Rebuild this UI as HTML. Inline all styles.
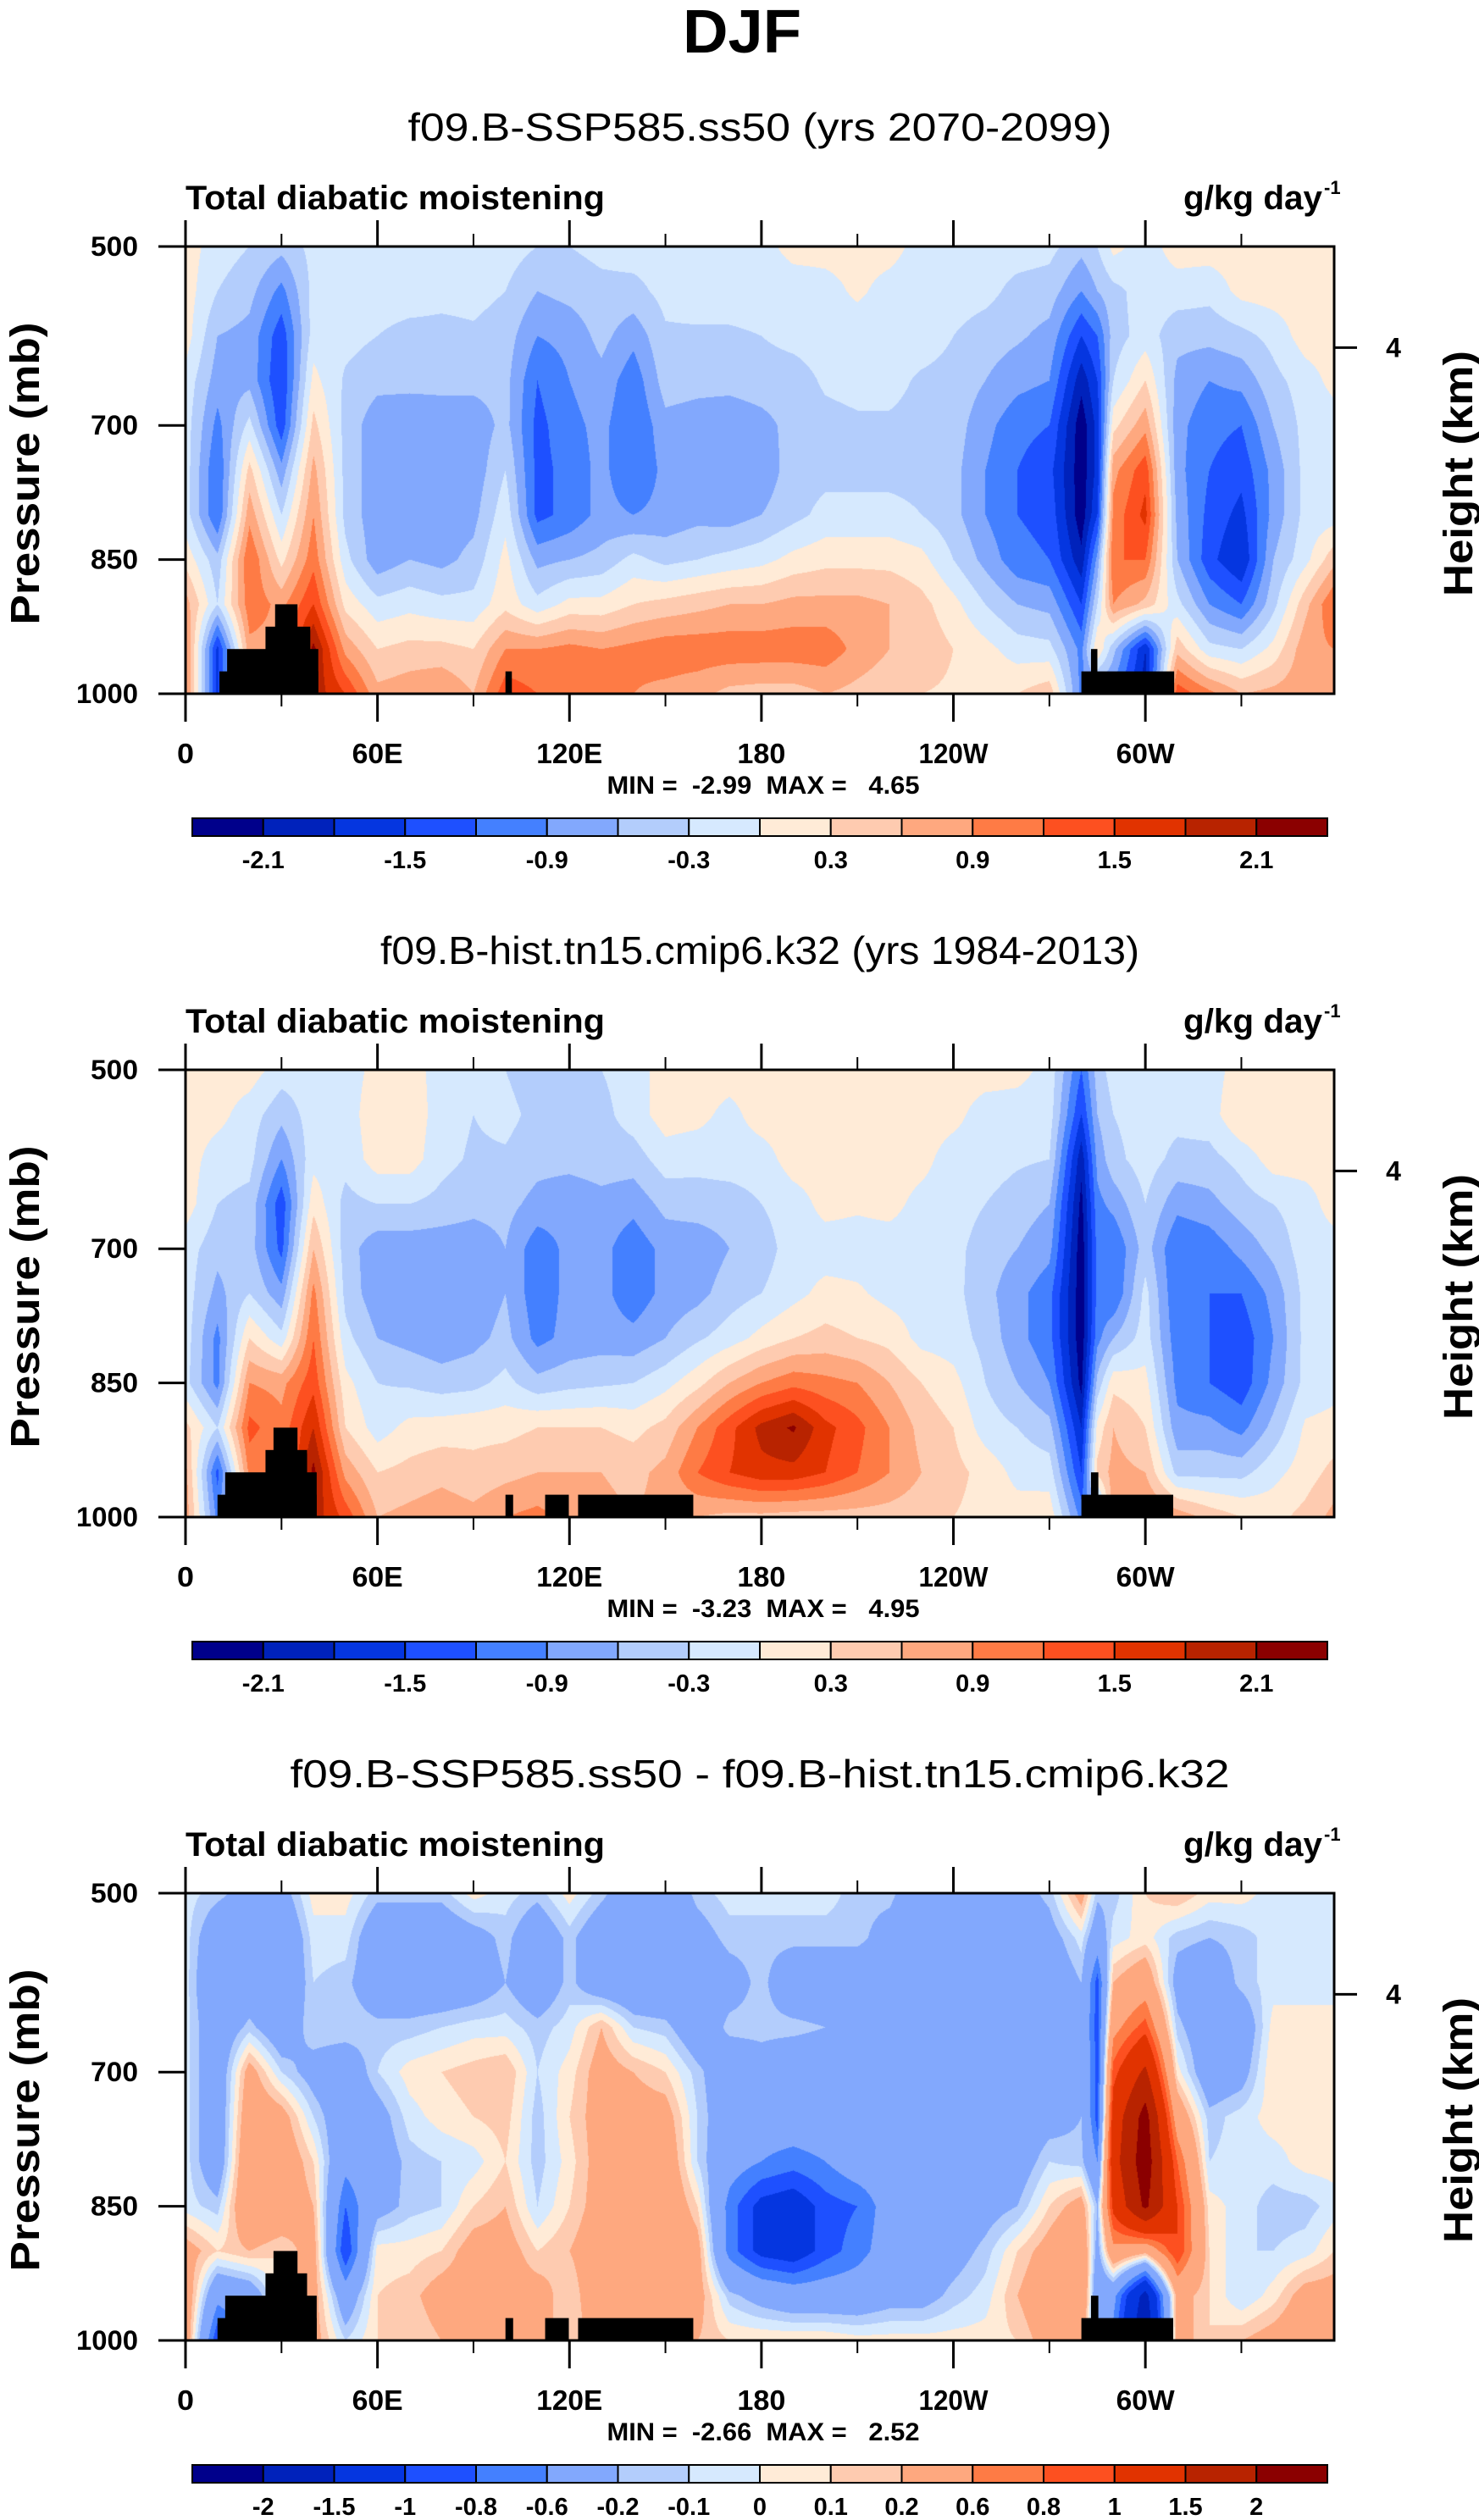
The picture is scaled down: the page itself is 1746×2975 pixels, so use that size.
<!DOCTYPE html>
<html>
<head>
<meta charset="utf-8">
<style>
  html,body{margin:0;padding:0;background:#fff;}
  #page{position:relative;width:1746px;height:2975px;overflow:hidden;background:#fff;}
  canvas{position:absolute;}
  svg{position:absolute;left:0;top:0;}
  text{font-family:"Liberation Sans",Arial,sans-serif;fill:#000;}
  .pre{white-space:pre;}
</style>
</head>
<body>
<div id="page">
<svg id="svg" width="1746" height="2975"></svg>
</div>
<script>
// ---------------- DATA ----------------
const lons = [0,10,20,30,40,50,60,70,80,90,100,110,120,130,140,150,160,170,180,190,200,210,220,230,240,250,260,270,280,285,290,300,310,320,330,340,350,359];
const pres = [500,550,600,650,700,750,800,850,900,950,1000];

const levelsAB = [-2.1,-1.8,-1.5,-1.2,-0.9,-0.6,-0.3,0,0.3,0.6,0.9,1.2,1.5,1.8,2.1];
const labelsAB = ["-2.1","","-1.5","","-0.9","","-0.3","","0.3","","0.9","","1.5","","2.1"];
const levelsC = [-2,-1.5,-1,-0.8,-0.6,-0.2,-0.1,0,0.1,0.2,0.6,0.8,1,1.5,2];
const labelsC = ["-2","-1.5","-1","-0.8","-0.6","-0.2","-0.1","0","0.1","0.2","0.6","0.8","1","1.5","2"];
const palette = ["#00008b","#0022bb","#0536e0","#1e50ff","#4480ff","#82a8fd","#b3cdfc","#d6e9fe","#ffebd7","#fecbb0","#fea87f","#fe7b45","#fd5020","#e13300","#b82300","#8b0000"];

// panel 1: f09.B-SSP585.ss50 (columns = lons, rows = pres)
const field1 = [
[0.15,0.15,0.15,-0.1,-0.15,-0.15,-0.15,0.2,0.75,1.0,1.0],
[-0.15,-0.3,-0.6,-0.75,-1.0,-1.2,-1.2,-0.5,-0.3,-1.6,-1.6],
[-0.3,-0.5,-0.7,-0.7,-0.2,0.4,0.8,1.2,1.1,0.8,0.8],
[-0.5,-1.0,-1.4,-1.5,-1.4,-0.8,-0.3,0.2,0.8,0.8,0.8],
[-0.2,-0.2,-0.15,0.1,0.4,0.7,0.9,1.1,1.5,2.2,2.0],
[-0.15,-0.15,-0.2,-0.35,-0.4,-0.4,-0.4,-0.2,0.2,0.8,1.5],
[-0.15,-0.15,-0.3,-0.5,-0.8,-0.8,-0.8,-0.8,-0.2,0.3,0.7],
[-0.15,-0.15,-0.4,-0.5,-0.85,-0.85,-0.85,-0.6,-0.1,0.4,0.8],
[-0.15,-0.2,-0.4,-0.5,-0.8,-0.8,-0.8,-0.7,-0.2,0.4,0.9],
[-0.15,-0.2,-0.35,-0.5,-0.8,-0.8,-0.7,-0.5,-0.2,0.3,0.6],
[-0.15,-0.3,-0.45,-0.5,-0.5,-0.3,-0.1,0.1,0.2,0.9,1.4],
[-0.3,-0.6,-0.9,-1.2,-1.3,-1.3,-1.3,-0.7,-0.2,0.9,1.2],
[-0.3,-0.5,-0.8,-0.9,-1.0,-1.1,-1.1,-0.6,0.1,1.0,1.2],
[-0.2,-0.4,-0.5,-0.7,-0.8,-0.8,-0.8,-0.5,0.1,0.9,1.0],
[-0.15,-0.4,-0.8,-1.1,-1.2,-1.2,-0.9,-0.2,0.3,1.0,0.9],
[-0.15,-0.2,-0.35,-0.45,-0.7,-0.8,-0.8,-0.4,0.4,1.1,0.8],
[-0.15,-0.15,-0.35,-0.5,-0.75,-0.8,-0.7,-0.3,0.5,1.1,0.7],
[-0.15,-0.15,-0.35,-0.5,-0.8,-0.85,-0.75,-0.2,0.6,1.1,0.5],
[-0.1,-0.15,-0.3,-0.45,-0.7,-0.8,-0.6,-0.1,0.6,1.1,0.45],
[0.1,-0.15,-0.2,-0.45,-0.5,-0.45,-0.4,0.1,0.7,1.1,0.45],
[0.1,-0.1,-0.15,-0.25,-0.4,-0.4,-0.2,0.2,0.7,1.1,0.6],
[0.1,0.05,-0.15,-0.2,-0.35,-0.4,-0.2,0.2,0.7,0.8,0.5],
[0.1,-0.1,-0.15,-0.2,-0.35,-0.4,-0.2,0.2,0.6,0.6,0.4],
[-0.1,-0.15,-0.15,-0.35,-0.4,-0.4,-0.3,0.1,0.4,0.5,0.3],
[-0.15,-0.15,-0.3,-0.4,-0.45,-0.5,-0.5,-0.3,0.1,0.3,0.25],
[-0.15,-0.2,-0.45,-0.6,-0.8,-0.9,-0.9,-0.7,-0.3,0.1,0.2],
[-0.15,-0.4,-0.55,-0.8,-1.1,-1.2,-1.2,-1.1,-0.6,-0.15,0.3],
[-0.2,-0.45,-0.7,-0.9,-1.2,-1.4,-1.3,-1.2,-0.7,-0.2,0.5],
[-0.5,-0.9,-1.5,-2.0,-2.3,-2.3,-2.3,-2.0,-1.5,-1.0,-1.0],
[-0.3,-0.6,-1.2,-1.5,-1.7,-1.7,-1.5,-0.8,-0.3,0.3,-1.0],
[0.1,-0.4,-0.45,-0.3,0.2,0.8,1.0,1.2,0.9,-0.5,-1.0],
[-0.15,-0.15,-0.15,0.3,0.8,1.4,1.6,1.2,0.5,-1.8,-2.0],
[0.15,-0.15,-0.5,-0.7,-0.8,-0.8,-0.7,-0.6,-0.2,0.5,1.4],
[0.15,-0.2,-0.5,-0.9,-1.1,-1.2,-1.3,-1.4,-0.9,-0.2,1.0],
[0.15,0.1,-0.4,-0.8,-1.2,-1.4,-1.6,-1.8,-1.2,-0.3,0.6],
[0.15,0.15,-0.2,-0.4,-0.6,-0.8,-0.8,-0.6,-0.4,0.1,0.7],
[0.15,0.15,0.15,-0.15,-0.2,-0.2,-0.2,-0.1,0.5,0.8,0.8],
[0.15,0.15,0.15,0.1,-0.15,-0.15,-0.15,0.5,1.2,0.9,0.9]
];
// panel 2: f09.B-hist.tn15.cmip6.k32
const field2 = [
[0.15,0.15,0.15,0.15,-0.15,-0.15,-0.15,-0.2,0.4,0.7,0.8],
[0.15,0.1,-0.15,-0.3,-0.5,-0.7,-1.0,-1.0,-0.3,-1.3,-1.0],
[0.15,-0.15,-0.2,-0.4,-0.45,-0.3,0.3,0.9,1.3,1.0,0.8],
[-0.15,-0.5,-0.9,-1.4,-1.3,-0.8,-0.2,0.8,1.0,0.8,0.8],
[-0.15,-0.15,-0.1,0.2,0.6,1.0,1.2,1.4,1.8,2.2,2.0],
[-0.15,-0.15,-0.2,-0.4,-0.45,-0.4,-0.2,0.1,0.3,0.8,1.4],
[0.1,0.2,0.15,-0.3,-0.8,-0.8,-0.6,-0.3,-0.15,0.3,0.6],
[0.1,0.2,0.15,-0.3,-0.8,-0.8,-0.7,-0.35,0.1,0.4,0.7],
[-0.1,-0.15,-0.2,-0.4,-0.8,-0.8,-0.8,-0.45,0.15,0.5,0.8],
[-0.2,-0.3,-0.35,-0.5,-0.8,-0.8,-0.7,-0.4,0.2,0.4,0.7],
[-0.3,-0.2,-0.35,-0.5,-0.6,-0.6,-0.5,-0.2,0.2,0.5,0.9],
[-0.5,-0.4,-0.5,-0.7,-1.1,-1.1,-1.0,-0.5,0.3,0.6,1.0],
[-0.3,-0.3,-0.5,-0.8,-0.8,-0.8,-0.8,-0.4,0.3,0.6,0.8],
[-0.3,-0.4,-0.45,-0.7,-0.8,-0.8,-0.75,-0.35,0.3,0.6,0.7],
[-0.15,-0.15,-0.45,-0.8,-1.1,-1.1,-0.8,-0.3,0.2,0.5,0.6],
[0.15,0.15,-0.15,-0.5,-0.8,-0.8,-0.6,-0.1,0.4,0.7,0.7],
[0.15,0.1,-0.2,-0.45,-0.8,-0.7,-0.35,0.2,0.9,1.2,0.6],
[0.15,-0.1,-0.15,-0.45,-0.6,-0.45,-0.15,0.6,1.4,1.5,0.5],
[0.15,0.15,-0.15,-0.3,-0.45,-0.3,0.1,0.9,1.9,1.7,0.5],
[0.15,0.15,0.15,-0.15,-0.15,-0.1,0.3,1.1,2.15,1.7,0.45],
[0.15,0.15,0.15,0.1,-0.15,0.1,0.4,1.0,1.6,1.5,0.45],
[0.15,0.15,0.15,0.05,-0.15,0.05,0.3,0.9,1.3,1.2,0.45],
[0.15,0.15,0.15,0.1,-0.15,-0.1,0.2,0.6,0.9,0.9,0.45],
[0.15,0.15,0.1,-0.1,-0.15,-0.15,-0.1,0.3,0.5,0.6,0.4],
[0.15,0.1,-0.15,-0.15,-0.2,-0.2,-0.15,0.1,0.3,0.4,0.3],
[0.15,-0.15,-0.15,-0.3,-0.45,-0.5,-0.4,-0.3,-0.15,0.2,0.2],
[0.1,-0.15,-0.25,-0.45,-0.6,-0.8,-0.8,-0.6,-0.3,-0.1,0.15],
[-0.1,-0.15,-0.3,-0.6,-0.8,-1.1,-1.1,-0.9,-0.5,-0.15,0.2],
[-1.2,-1.5,-2.0,-2.2,-2.3,-2.3,-2.3,-2.2,-1.8,-1.5,-1.0],
[-0.45,-0.6,-0.8,-1.0,-1.1,-1.1,-1.0,-0.5,0.1,0.4,-1.0],
[-0.15,-0.3,-0.4,-0.8,-1.2,-1.2,-0.6,0.2,0.6,0.7,0.9],
[-0.15,-0.15,-0.15,-0.3,-0.45,-0.2,-0.15,0.1,0.3,0.6,1.0],
[-0.15,-0.2,-0.4,-0.8,-1.2,-1.2,-1.1,-1.0,-0.8,-0.4,0.8],
[-0.15,-0.15,-0.4,-0.7,-1.1,-1.2,-1.2,-1.2,-0.8,-0.4,0.5],
[0.15,0.3,-0.2,-0.45,-0.8,-1.2,-1.4,-1.4,-1.0,-0.4,0.3],
[0.15,0.3,0.15,-0.3,-0.5,-0.8,-0.9,-0.8,-0.5,-0.1,0.2],
[0.15,0.15,0.15,-0.15,-0.15,-0.2,-0.2,-0.2,0.05,0.15,0.4],
[0.15,0.15,0.15,0.15,-0.15,-0.15,-0.15,-0.1,0.1,0.4,0.7]
];
// panel 3: difference
const field3 = [
[-0.05,-0.05,-0.05,-0.05,-0.05,-0.05,-0.05,-0.05,0.3,0.4,0.4],
[-0.15,-0.4,-0.5,-0.4,-0.4,-0.4,-0.4,-0.15,0.1,-0.5,-1.0],
[-0.3,-0.4,-0.4,-0.15,0.3,0.4,0.5,0.5,0.2,-0.4,-0.4],
[-0.3,-0.5,-0.5,-0.4,-0.1,0.3,0.4,0.4,0.1,0.1,0.1],
[0.05,-0.05,-0.1,-0.1,-0.3,-0.1,0.1,0.2,0.3,0.3,0.3],
[0.05,-0.05,-0.15,-0.1,-0.4,-0.4,-0.5,-0.8,-1.0,-0.4,-0.1],
[-0.15,-0.4,-0.4,-0.15,-0.1,-0.3,-0.35,-0.3,0.05,0.1,0.1],
[-0.15,-0.4,-0.4,-0.15,0.05,-0.05,-0.15,-0.15,0.05,0.15,0.1],
[-0.15,-0.4,-0.4,-0.1,0.1,0.05,-0.1,-0.1,0.1,0.3,0.2],
[0.05,-0.3,-0.35,-0.05,0.15,0.1,-0.05,0.1,0.3,0.3,0.2],
[-0.05,-0.15,-0.2,-0.05,0.2,0.15,0.1,0.2,0.3,0.3,0.3],
[-0.15,-0.4,-0.4,-0.15,-0.1,-0.15,-0.15,-0.1,0.1,0.3,0.3],
[0.05,-0.15,-0.15,-0.05,0.05,0.1,0.05,0.1,0.2,0.1,0.1],
[-0.15,-0.4,-0.4,0.2,0.3,0.3,0.3,0.3,0.35,0.4,0.3],
[-0.4,-0.45,-0.45,-0.1,0.2,0.3,0.35,0.4,0.4,0.4,0.3],
[-0.4,-0.45,-0.45,-0.15,0.1,0.3,0.4,0.45,0.5,0.4,0.3],
[-0.15,-0.3,-0.4,-0.4,-0.15,-0.1,-0.1,0.1,0.3,0.3,0.2],
[-0.05,-0.15,-0.3,-0.15,-0.4,-0.4,-0.45,-0.7,-0.7,-0.15,0.1],
[-0.05,-0.15,-0.15,-0.15,-0.3,-0.45,-0.6,-1.1,-1.1,-0.3,0.1],
[-0.05,-0.15,-0.4,-0.15,-0.4,-0.4,-0.7,-1.2,-1.2,-0.4,0.1],
[-0.05,-0.15,-0.4,-0.2,-0.4,-0.4,-0.6,-0.9,-0.9,-0.4,0.1],
[-0.15,-0.15,-0.4,-0.4,-0.4,-0.4,-0.4,-0.8,-0.7,-0.4,0.05],
[-0.15,-0.3,-0.4,-0.4,-0.4,-0.4,-0.4,-0.45,-0.45,-0.3,0.05],
[-0.4,-0.4,-0.4,-0.4,-0.4,-0.4,-0.4,-0.4,-0.4,-0.3,0.05],
[-0.4,-0.4,-0.4,-0.4,-0.4,-0.4,-0.4,-0.4,-0.3,-0.15,0.05],
[-0.4,-0.4,-0.4,-0.4,-0.4,-0.4,-0.4,-0.3,-0.15,-0.05,0.05],
[-0.3,-0.4,-0.4,-0.4,-0.4,-0.4,-0.35,-0.2,0.1,0.2,0.1],
[-0.15,-0.3,-0.4,-0.4,-0.4,-0.3,-0.1,0.1,0.3,0.4,0.3],
[0.3,-0.05,-0.2,-0.3,-0.2,-0.2,-0.15,0.3,0.5,0.6,0.3],
[-0.15,-0.4,-0.9,-0.9,-0.9,-0.9,-0.6,-0.2,-0.3,-0.5,-0.5],
[-0.15,-0.05,0.2,0.5,0.9,1.2,1.3,1.1,0.5,-0.5,-0.7],
[0.1,0.05,0.4,0.9,1.6,2.2,2.3,2.1,0.3,-1.7,-2.0],
[0.2,-0.15,-0.3,-0.15,0.05,0.4,0.8,1.0,1.0,0.3,0.3],
[0.05,-0.2,-0.4,-0.4,-0.4,-0.15,-0.1,0.05,0.1,0.1,0.1],
[0.05,-0.15,-0.15,-0.4,-0.3,-0.05,-0.05,-0.05,-0.1,-0.1,0.2],
[-0.05,-0.05,-0.05,0.05,0.1,0.05,-0.05,-0.15,-0.1,0.05,0.3],
[-0.05,-0.05,-0.05,0.05,0.05,0.05,0.05,-0.15,-0.05,0.3,0.4],
[-0.05,-0.05,-0.05,0.05,0.05,0.05,0.05,-0.05,0.1,0.3,0.3]
];

// topography blocks: [lonStart, lonEnd, topPressure]
const topo1 = [[10.6,41.5,975],[13,41.5,950],[25,39,925],[28,35,900],[100,102,975],[280,309,975],[283,285,950]];
const topo23 = [[10,41,975],[12.4,41,950],[25,38,925],[27.5,35,900],[100,102.4,975],[112.4,119.8,975],[122.7,158.7,975],[280,308.7,975],[283,285.3,950]];

const titles = ["f09.B-SSP585.ss50 (yrs 2070-2099)","f09.B-hist.tn15.cmip6.k32 (yrs 1984-2013)","f09.B-SSP585.ss50 - f09.B-hist.tn15.cmip6.k32"];
const titleLens = [831,896,1109];
const minVals = ["-2.99","-3.23","-2.66"];
const maxVals = ["4.65","4.95","2.52"];
const xTickVals = [0,60,120,180,240,300];
const xTickLabels = ["0","60E","120E","180","120W","60W"];
const xTickLens = [20,60,78,57,82,69];
const xMinorVals = [30,90,150,210,270,330];
const yTickVals = [500,700,850,1000];
const yTickLabels = ["500","700","850","1000"];
const heightTickP = 613;

// ---------------- LAYOUT ----------------
const L = 219, R = 1575, PW = R - L, PH = 528;
const panelTops = [291, 1263, 2235];
const LONMAX = 359;
const CB_L = 227, CB_R = 1567;
const NS = "http://www.w3.org/2000/svg";
const svg = document.getElementById('svg');
const page = document.getElementById('page');

function xOf(lon){ return L + lon / LONMAX * PW; }
function yOf(p, top){ return top + (p - 500) / 500 * PH; }

function mk(tag, attrs, parent){
  const e = document.createElementNS(NS, tag);
  for (const k in attrs) e.setAttribute(k, attrs[k]);
  (parent || svg).appendChild(e);
  return e;
}
function txt(str, attrs, parent){
  const t = mk('text', attrs, parent);
  t.textContent = str;
  return t;
}

function interp(field, lon, p){
  let i = 0;
  while (i < lons.length - 2 && lon > lons[i+1]) i++;
  let j = 0;
  while (j < pres.length - 2 && p > pres[j+1]) j++;
  const tx = Math.min(1, Math.max(0, (lon - lons[i]) / (lons[i+1] - lons[i])));
  const ty = Math.min(1, Math.max(0, (p - pres[j]) / (pres[j+1] - pres[j])));
  const a = field[i][j], b = field[i+1][j], c = field[i][j+1], d = field[i+1][j+1];
  return (a*(1-tx) + b*tx)*(1-ty) + (c*(1-tx) + d*tx)*ty;
}
function binOf(v, levels){
  let k = 0;
  while (k < levels.length && v >= levels[k]) k++;
  return k;
}
function hexRGB(h){ return [parseInt(h.substr(1,2),16), parseInt(h.substr(3,2),16), parseInt(h.substr(5,2),16)]; }
const palRGB = palette.map(hexRGB);

const fields = [field1, field2, field3];
const levelSets = [levelsAB, levelsAB, levelsC];
const labelSets = [labelsAB, labelsAB, labelsC];
const topos = [topo1, topo23, topo23];

// DJF main title
const djf = txt('DJF', {x: 876, y: 62, 'text-anchor': 'middle', 'font-size': 72, 'font-weight': 'bold', textLength: 140, lengthAdjust: 'spacingAndGlyphs'});



for (let n = 0; n < 3; n++){
  const top = panelTops[n], bot = top + PH;
  const g = mk('g', {});
  
  

  // heatmap canvas
  const cv = document.createElement('canvas');
  cv.width = PW; cv.height = PH;
  cv.style.left = L + 'px'; cv.style.top = top + 'px';
  
  
  page.insertBefore(cv, svg);
  const ctx = cv.getContext('2d');
  const img = ctx.createImageData(PW, PH);
  for (let py = 0; py < PH; py++){
    const p = 500 + (py + 0.5) / PH * 500;
    for (let px = 0; px < PW; px++){
      const lon = (px + 0.5) / PW * LONMAX;
      const v = interp(fields[n], lon, p);
      const c = palRGB[binOf(v, levelSets[n])];
      const o = (py * PW + px) * 4;
      img.data[o] = c[0]; img.data[o+1] = c[1]; img.data[o+2] = c[2]; img.data[o+3] = 255;
    }
  }
  ctx.putImageData(img, 0, 0);

  // topography
  topos[n].forEach((b, k) => {
    const r = mk('rect', {x: xOf(b[0]), y: yOf(b[2], top), width: xOf(b[1]) - xOf(b[0]), height: bot - yOf(b[2], top), fill: '#000'}, g);
    
    
  });

  // frame
  const fr = mk('rect', {x: L, y: top, width: PW, height: PH, fill: 'none', stroke: '#000', 'stroke-width': 3}, g);
  
  

  // x ticks
  xTickVals.forEach((v, k) => {
    const x = xOf(v);
    mk('line', {x1: x, x2: x, y1: top, y2: top - 31, stroke: '#000', 'stroke-width': 3}, g);
    mk('line', {x1: x, x2: x, y1: bot, y2: bot + 33, stroke: '#000', 'stroke-width': 3}, g);
    const t = txt(xTickLabels[k], {x: x, y: bot + 82, 'text-anchor': 'middle', 'font-size': 33, 'font-weight': 'bold', textLength: xTickLens[k], lengthAdjust: 'spacingAndGlyphs'}, g);
    
    
  });
  xMinorVals.forEach(v => {
    const x = xOf(v);
    mk('line', {x1: x, x2: x, y1: top, y2: top - 15, stroke: '#000', 'stroke-width': 2}, g);
    mk('line', {x1: x, x2: x, y1: bot, y2: bot + 15, stroke: '#000', 'stroke-width': 2}, g);
  });

  // y ticks
  yTickVals.forEach((v, k) => {
    const y = yOf(v, top);
    mk('line', {x1: L, x2: L - 32, y1: y, y2: y, stroke: '#000', 'stroke-width': 3}, g);
    const t = txt(yTickLabels[k], {x: 163, y: y + 11, 'text-anchor': 'end', 'font-size': 32, 'font-weight': 'bold', textLength: yTickLabels[k].length === 4 ? 73 : 56, lengthAdjust: 'spacingAndGlyphs'}, g);
    
    
  });
  // right height tick
  const hy = yOf(heightTickP, top);
  mk('line', {x1: R, x2: R + 27, y1: hy, y2: hy, stroke: '#000', 'stroke-width': 3}, g);
  const h4 = txt('4', {x: 1645, y: hy + 11, 'text-anchor': 'middle', 'font-size': 32, 'font-weight': 'bold'}, g);
  
  

  // axis titles
  const cy = top + 268;
  const pt = txt('Pressure (mb)', {x: 0, y: 0, transform: 'translate(46,' + cy + ') rotate(-90)', 'text-anchor': 'middle', 'font-size': 48, 'font-weight': 'bold', textLength: 357, lengthAdjust: 'spacingAndGlyphs'}, g);
  
  
  const ht = txt('Height (km)', {x: 0, y: 0, transform: 'translate(1738,' + cy + ') rotate(-90)', 'text-anchor': 'middle', 'font-size': 48, 'font-weight': 'bold', textLength: 290, lengthAdjust: 'spacingAndGlyphs'}, g);
  
  

  // titles
  const st = txt(titles[n], {x: 897, y: top - 125, 'text-anchor': 'middle', 'font-size': 46, textLength: titleLens[n], lengthAdjust: 'spacingAndGlyphs'}, g);
  
  
  const lt = txt('Total diabatic moistening', {x: L, y: top - 44, 'font-size': 40, 'font-weight': 'bold', textLength: 495, lengthAdjust: 'spacingAndGlyphs'}, g);
  
  
  const ut = txt('g/kg day', {x: 1561, y: top - 44, 'text-anchor': 'end', 'font-size': 40, 'font-weight': 'bold', textLength: 164, lengthAdjust: 'spacingAndGlyphs'}, g);
  
  
  txt('-1', {x: 1563, y: top - 62, 'font-size': 22, 'font-weight': 'bold'}, g);

  // min / max
  const mm = txt('MIN =  ' + minVals[n] + '  MAX =   ' + maxVals[n], {x: 901, y: bot + 118, 'text-anchor': 'middle', 'font-size': 30, 'font-weight': 'bold', textLength: 369, lengthAdjust: 'spacingAndGlyphs', 'class': 'pre'}, g);
  
  

  // colorbar
  const cbTop = bot + 147, cbH = 21;
  const bw = (CB_R - CB_L) / palette.length;
  const cb = mk('g', {}, g);
  
  
  palette.forEach((col, k) => {
    const r = mk('rect', {x: CB_L + k*bw, y: cbTop, width: bw, height: cbH, fill: col, stroke: '#000', 'stroke-width': 2}, cb);
    
    
  });
  labelSets[n].forEach((lab, k) => {
    if (!lab) return;
    const t = txt(lab, {x: CB_L + (k+1)*bw, y: bot + 206, 'text-anchor': 'middle', 'font-size': 29, 'font-weight': 'bold'}, cb);
    
    
  });
}
</script>
</body>
</html>
